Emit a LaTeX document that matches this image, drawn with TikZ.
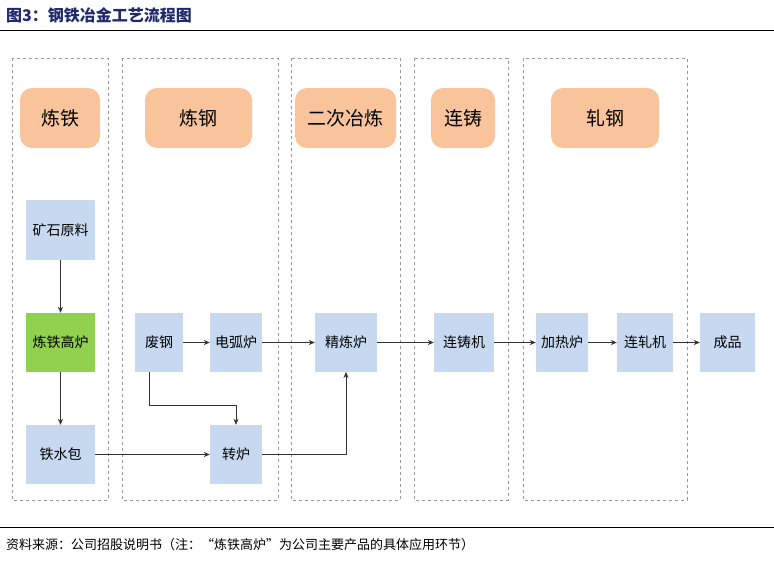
\documentclass[tikz,border=0pt]{standalone}
\usepackage{fontspec}
\newfontfamily\cjk{Noto Sans CJK SC}
\usetikzlibrary{arrows.meta}
\definecolor{hdr}{HTML}{F9C49C}
\definecolor{bx}{HTML}{C6D9F1}
\definecolor{grn}{HTML}{92D050}
\definecolor{navy}{HTML}{1F2A6B}
\tikzset{
 panel/.style={draw=gray!80,dashed,line width=0.5pt},
 head/.style={fill=hdr,rounded corners=12pt,font=\cjk\fontsize{19}{19}\selectfont},
 arr/.style={-{Stealth[length=6pt,width=5pt]},line width=0.5pt,draw=black!80}
}
\begin{document}
\begin{tikzpicture}[x=1pt,y=-1pt]
\useasboundingbox (0,0) rectangle (774,560);
\node[anchor=west,font=\cjk\bfseries\fontsize{16}{16}\selectfont,text=navy,inner sep=0] (title) at (6,15) {图3：钢铁冶金工艺流程图};
\draw[line width=0.7pt] (0,30) -- (774,30);
\draw[line width=0.7pt] (0,527) -- (774,527);
\node[anchor=west,font=\cjk\fontsize{13}{13}\selectfont,inner sep=0] (src) at (6,545) {资料来源：公司招股说明书（注：“炼铁高炉”为公司主要产品的具体应用环节）};
% panels
\draw[panel] (12,58) rectangle (108,500);
\draw[panel] (122,58) rectangle (278,500);
\draw[panel] (291,58) rectangle (400,500);
\draw[panel] (414,58) rectangle (508,500);
\draw[panel] (523,58) rectangle (687,500);
% headers
\path[head] (20,88) rectangle node (h1) {炼铁} (100,148);
\path[head] (145,88) rectangle node (h2) {炼钢} (252,148);
\path[head] (295,88) rectangle node (h3) {二次冶炼} (396,148);
\path[head] (431,88) rectangle node (h4) {连铸} (495,148);
\path[head] (551,88) rectangle node (h5) {轧钢} (659,148);
% boxes
\newcommand\bxx[6]{\path[fill=bx,#6] (#2,#3) rectangle (#4,#5); \node[font=\cjk\fontsize{14}{14}\selectfont,minimum width={#4-#2},minimum height={#5-#3},inner sep=0] (#1) at ({(#2+#4)/2},{(#3+#5)/2}) {#1};}
\bxx{矿石原料}{26}{200}{95}{260}{}
\bxx{炼铁高炉}{26}{313}{95}{372}{fill=grn}
\bxx{铁水包}{26}{425}{95}{484}{}
\bxx{废钢}{135}{313}{183}{372}{}
\bxx{电弧炉}{210}{313}{262}{372}{}
\bxx{转炉}{210}{425}{262}{484}{}
\bxx{精炼炉}{315}{313}{377}{372}{}
\bxx{连铸机}{434}{313}{494}{372}{}
\bxx{加热炉}{536}{313}{588}{372}{}
\bxx{连轧机}{617}{313}{673}{372}{}
\bxx{成品}{700}{313}{755}{372}{}
% arrows
\draw[arr] (矿石原料) -- (炼铁高炉);
\draw[arr] (炼铁高炉) -- (铁水包);
\draw[arr] (铁水包) -- (转炉);
\draw[arr] (废钢) -- (电弧炉);
\draw[arr] (电弧炉) -- (精炼炉);
\draw[arr] (精炼炉) -- (连铸机);
\draw[arr] (连铸机) -- (加热炉);
\draw[arr] (加热炉) -- (连轧机);
\draw[arr] (连轧机) -- (成品);
\draw[arr] ([xshift=-10pt]废钢.south) |- (236,405) -- (转炉.north);
\draw[arr] (转炉.east) -| (346,372);
\end{tikzpicture}
\end{document}
